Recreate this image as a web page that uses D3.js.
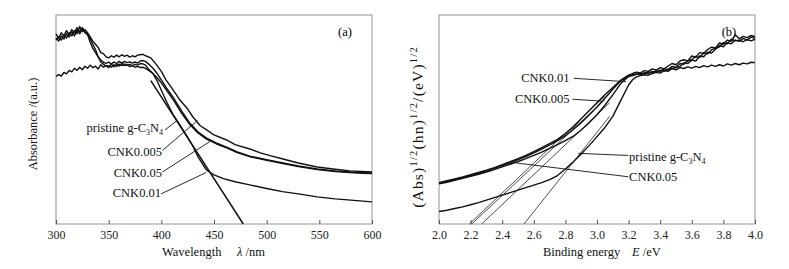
<!DOCTYPE html>
<html><head><meta charset="utf-8">
<script src="https://cdn.jsdelivr.net/npm/d3@7"></script>
<style>
body{margin:0;background:#fff;}
svg{display:block;font-family:"Liberation Serif","Times New Roman",serif;}
</style></head>
<body><svg id="c" width="789" height="269"></svg>
<script>
// ---------- Panel (a): absorbance vs wavelength ----------
const wlTicks = [300,350,400,450,500,550,600];
const curveA1 = [[300,88],[302.5,89.5],[305,88],[307.5,90.5],[310,89],[312.5,91.5],[315,90],[317.5,92.5],[320,91],[322.5,94.5],[325,92],[327.5,93],[330,91.5],[332.5,89.5],[335,87.5],[337.5,86],[340,84.5],[342.5,82],[345,81.5],[347.5,80],[350,79.5],[352.5,80.5],[355,79.8],[357.5,80.8],[360,80],[362.5,81],[365,80.2],[367.5,80.8],[370,79.8],[372.5,80.5],[375,80],[377.5,80.8],[380,81],[382.5,81.2],[385,80.5],[390,79.5],[395,76.5],[400,73],[404.4,69],[410,65],[417.7,59.3],[425,55],[430,51.2],[437,47],[443,45],[450,42.6],[462,40.2],[470,38],[484,35.9],[494,34],[505,32.5],[515.5,31.1],[530,29.2],[548,27.3],[565,26.2],[579,25.4],[590,25.1],[600,24.9]];
const curveA2 = [[300,89],[302.5,87.5],[305,90],[307.5,88.5],[310,91],[312.5,89.5],[315,92],[317.5,90],[320,93],[322.5,91],[325,93.5],[327.5,91.5],[330,90.5],[332.5,87],[335,84],[337.5,82],[340,80],[342.5,78.5],[345,77.5],[347.5,76.8],[350,77.5],[352.5,76.5],[355,77.5],[357.5,76.8],[360,77.8],[362.5,77],[365,77.8],[367.5,77.2],[370,77.6],[372.5,77],[375,77.5],[377.5,77],[380,78],[382.5,78.2],[385,77.8],[388,76.5],[392,74.5],[396,72],[400,69],[405,65],[411,60.8],[420,53.5],[427,48.3],[435,44],[443,41.1],[452,38.8],[462,36.8],[472,34.5],[484,32.5],[500,30.8],[515.5,29.2],[530,27.8],[548,26.3],[565,25.4],[579,24.9],[590,24.6],[600,24.4]];
const curveA3 = [[300,91],[302.5,89],[305,91.5],[307.5,90],[310,92.5],[312.5,90.5],[315,93],[317.5,91.5],[320,94],[322.5,92],[325,94],[327.5,92],[330,91],[332.5,88.5],[335,86],[337.5,83.5],[340,80],[342.5,77.5],[345,76.5],[347.5,75.5],[350,75.8],[352.5,75],[355,76.2],[357.5,75.4],[360,76.5],[362.5,75.8],[365,76.6],[367.5,76],[370,76.4],[372.5,75.8],[375,76.4],[377.5,76],[380,76.8],[382.5,76.6],[385,76],[388,74],[392,72],[396,68.5],[400,64],[405,58.5],[411,52.5],[415,49.5],[420,45.5],[425,41.5],[430,37.2],[435,32],[440,28],[443,25.8],[450,23.5],[459,21.7],[470,20.2],[484,18.7],[500,17],[515,15.5],[530,14.4],[548,13],[565,12],[580,11.4],[600,10.6]];
const curveA4 = [[300,70.5],[302.5,71.5],[305,70.8],[307.5,72.5],[310,71.8],[312.5,73.5],[315,72.8],[317.5,74.5],[320,73.5],[322.5,75],[325,73.8],[327.5,75.5],[330,74.5],[332.5,76],[335,74.8],[337.5,75.5],[340,74.2],[342.5,76.2],[345,75],[347.5,75.8],[350,74.8],[352.5,76.5],[355,75.2],[357.5,76.5],[360,75.6],[362.5,76.8],[365,75.8],[367.5,76.2],[370,75.3],[372.5,75.8],[375,75],[377.5,75.4],[380,74.8],[382.5,75],[385,74.5],[388,73.5],[392,72],[396,70],[400,67.5],[405,64],[411,59.6],[420,52.5],[427,47.6],[435,43.4],[443,40.6],[452,38.4],[462,36.4],[472,34.2],[484,32.2],[500,30.5],[515.5,28.9],[530,27.5],[548,26],[565,25.1],[579,24.6],[590,24.3],[600,24.1]];
const tangentA = [[390,68.6],[477.8,0]];
const labelsA = [
  {name:"pristine", at:[401.6,45.9], from:[403.5,45], to:[414.4,49.3]},
  {name:"CNK0.005", at:[400.6,34.4], from:[401.1,35.2], to:[434.3,49.5]},
  {name:"CNK0.05",  at:[400.6,24.4], from:[401.1,24.9], to:[446.2,39.5]},
  {name:"CNK0.01",  at:[399.7,14.8], from:[399.7,14.4], to:[442.4,24.6]}
];

// ---------- Panel (b): Tauc plot ----------
const eTicks = [2.0,2.2,2.4,2.6,2.8,3.0,3.2,3.4,3.6,3.8,4.0];
const curveBP = [[2.0,19.8],[2.05,20.7],[2.1,21.6],[2.15,22.5],[2.2,23.6],[2.25,24.7],[2.3,25.8],[2.35,27],[2.4,28.4],[2.45,29.8],[2.5,31.3],[2.55,32.8],[2.6,34.6],[2.65,36.5],[2.7,38.5],[2.75,40.5],[2.8,43.3],[2.85,46.3],[2.9,50.3],[2.95,54.2],[3.0,58],[3.05,61.8],[3.1,65.3],[3.15,68.8],[3.2,71.2],[3.225,72],[3.25,72.6],[3.275,72.3],[3.3,73.4],[3.325,73],[3.35,74.2],[3.375,73.6],[3.4,74.8],[3.425,74.2],[3.45,75.6],[3.475,76.8],[3.5,76.2],[3.525,78],[3.55,78.6],[3.575,78],[3.6,80.4],[3.625,79.8],[3.65,82],[3.675,81.6],[3.7,83.5],[3.725,84.6],[3.75,84.2],[3.775,86.6],[3.8,86],[3.825,88],[3.85,87.4],[3.875,90.5],[3.9,88.6],[3.925,89.8],[3.95,89.2],[3.975,90.2],[4.0,89.6]];
const curveBQ = [[2.0,19.2],[2.05,20],[2.1,20.9],[2.15,21.8],[2.2,22.8],[2.25,23.8],[2.3,24.9],[2.35,26],[2.4,27.3],[2.45,28.6],[2.5,29.9],[2.55,31.3],[2.6,32.8],[2.65,34.4],[2.7,36.2],[2.75,38],[2.8,39.9],[2.85,42],[2.9,45],[2.95,48.4],[3.0,52.3],[3.05,56.8],[3.1,61.8],[3.15,67.2],[3.2,70.6],[3.225,71],[3.25,71.6],[3.275,72],[3.3,71.8],[3.325,72.8],[3.35,72.4],[3.375,73.4],[3.4,73],[3.425,74.2],[3.45,74],[3.475,75.4],[3.5,75],[3.525,76.8],[3.55,76.4],[3.575,78.2],[3.6,78.6],[3.625,80.2],[3.65,79.6],[3.675,82],[3.7,81.4],[3.725,83.4],[3.75,84],[3.775,84.8],[3.8,86.8],[3.825,86.2],[3.85,88.4],[3.875,87.6],[3.9,88],[3.925,87.2],[3.95,88.2],[3.975,87.6],[4.0,88.4]];
const curveBW = [[2.0,19.5],[2.05,20.4],[2.1,21.3],[2.15,22.2],[2.2,23.2],[2.25,24.3],[2.3,25.4],[2.35,26.6],[2.4,27.9],[2.45,29.3],[2.5,30.8],[2.55,32.3],[2.6,34],[2.65,35.8],[2.7,37.8],[2.75,39.9],[2.8,42.3],[2.85,45.2],[2.9,48.5],[2.95,52.2],[3.0,56],[3.05,60.2],[3.1,64.5],[3.15,68.5],[3.2,70.8],[3.225,71.4],[3.25,71.8],[3.275,71.4],[3.3,72.4],[3.325,72],[3.35,73],[3.375,72.6],[3.4,73.6],[3.425,73.2],[3.45,73.8],[3.475,74.4],[3.5,73.8],[3.525,74.8],[3.55,74.4],[3.575,75.2],[3.6,74.6],[3.625,75.4],[3.65,74.8],[3.675,75.8],[3.7,75.2],[3.725,76],[3.75,75.4],[3.775,76.2],[3.8,75.6],[3.825,76.6],[3.85,76],[3.875,76.8],[3.9,76.2],[3.925,77],[3.95,76.6],[3.975,77.4],[4.0,77.2]];
const curveBL = [[2.0,6.0],[2.05,6.6],[2.1,7.4],[2.15,8.2],[2.2,9.2],[2.25,10.2],[2.3,11.4],[2.35,12.6],[2.4,13.8],[2.45,15],[2.5,16.2],[2.55,17.4],[2.6,18.6],[2.65,19.8],[2.7,21.2],[2.75,23.2],[2.8,26.3],[2.85,29.8],[2.9,33.5],[2.95,37.5],[3.0,41.8],[3.05,46.2],[3.1,51.5],[3.15,59],[3.2,66.5],[3.225,69],[3.25,70.4],[3.275,71],[3.3,71.4],[3.325,71.2],[3.35,72],[3.375,72.6],[3.4,72.2],[3.425,73.4],[3.45,73],[3.475,74.4],[3.5,74.8],[3.525,75.4],[3.55,77.2],[3.575,76.8],[3.6,78.4],[3.625,78],[3.65,80.4],[3.675,80],[3.7,82.2],[3.725,81.8],[3.75,83.6],[3.775,85.4],[3.8,84.8],[3.825,86.8],[3.85,86.2],[3.875,88],[3.9,87.4],[3.925,88.8],[3.95,88],[3.975,89.4],[4.0,88.8]];
const tangentsB = [
  [[2.192,0],[3.05,61.3]],
  [[2.207,0],[3.05,59.5]],
  [[2.27,0],[3.08,58]],
  [[2.538,0],[3.08,51.5]]
];
const labelsB = [
  {name:"CNK0.01",  anchor:"end",   at:[2.826,70.1], from:[2.854,69.7], to:[3.184,68.1]},
  {name:"CNK0.005", anchor:"end",   at:[2.826,60.1], from:[2.845,59.7], to:[3.028,58.8]},
  {name:"pristine", anchor:"start", at:[3.203,32.3], from:[3.196,32.8], to:[2.883,33.8]},
  {name:"CNK0.05",  anchor:"start", at:[3.203,22.5], from:[3.198,22.6], to:[2.489,29.2]}
];

const svg = d3.select("#c");
const FRAME = "#949494";
const FONT = "'Liberation Serif','Times New Roman',serif";

function panel(xDom, xRange, ticks, fmt){
  const x = d3.scaleLinear().domain(xDom).range(xRange);
  const y = d3.scaleLinear().domain([0,100]).range([224,15]);
  const g = svg.append("g");
  g.append("rect").attr("x",xRange[0]).attr("y",15).attr("width",xRange[1]-xRange[0]).attr("height",209)
    .attr("fill","none").attr("stroke",FRAME).attr("stroke-width",1);
  const ax = g.append("g").attr("transform","translate(0,224)")
    .call(d3.axisBottom(x).tickValues(ticks).tickFormat(fmt).tickSizeInner(-4).tickSizeOuter(0).tickPadding(6));
  ax.attr("font-family",FONT);
  ax.select(".domain").remove();
  ax.selectAll(".tick line").attr("stroke","#555");
  ax.selectAll("text").attr("font-size","12px").attr("fill","#222").attr("font-family",FONT);
  return {x,y,g};
}

// Panel a
const A = panel([300,600],[56,372],wlTicks,d3.format("d"));
const lineA = d3.line().x(d=>A.x(d[0])).y(d=>A.y(d[1]));
[curveA1,curveA2,curveA4,curveA3].forEach(c=>{
  A.g.append("path").attr("d",lineA(c)).attr("fill","none").attr("stroke","#111").attr("stroke-width",1.4).attr("stroke-linejoin","round");
});
A.g.append("path").attr("d",lineA(tangentA)).attr("stroke","#111").attr("stroke-width",1.5).attr("fill","none");

function addLabel(g, X, Y, L, anchor){
  g.append("line").attr("x1",X(L.from[0])).attr("y1",Y(L.from[1])).attr("x2",X(L.to[0])).attr("y2",Y(L.to[1]))
    .attr("stroke","#111").attr("stroke-width",0.9);
  const t = g.append("text").attr("x",X(L.at[0])).attr("y",Y(L.at[1])+4.3).attr("text-anchor",anchor)
    .attr("font-size","12.5px").attr("fill","#111");
  if(L.name==="pristine"){
    t.append("tspan").text("pristine g-C");
    t.append("tspan").attr("font-size","8px").attr("dy",3).text("3");
    t.append("tspan").attr("dy",-3).text("N");
    t.append("tspan").attr("font-size","8px").attr("dy",3).text("4");
  } else t.text(L.name);
}
labelsA.forEach(L=>addLabel(A.g, A.x, A.y, L, "end"));

A.g.append("text").attr("x",345).attr("y",36).attr("text-anchor","middle").attr("font-size","12.5px").text("(a)");
const tA = svg.append("text").attr("y",256).attr("font-size","12.5px").attr("fill","#111");
tA.append("tspan").attr("x",162).text("Wavelength");
tA.append("tspan").attr("x",237).attr("font-style","italic").text("λ");
tA.append("tspan").text(" /nm");
svg.append("text").attr("transform","translate(37,124) rotate(-90)").attr("text-anchor","middle")
  .attr("font-size","12.5px").attr("fill","#111").text("Absorbance /(a.u.)");

// Panel b
const B = panel([2,4],[439,755],eTicks,d3.format(".1f"));
const lineB = d3.line().x(d=>B.x(d[0])).y(d=>B.y(d[1]));
tangentsB.forEach(t=>{
  B.g.append("path").attr("d",lineB(t)).attr("stroke","#222").attr("stroke-width",0.8).attr("fill","none");
});
[curveBW,curveBQ,curveBP,curveBL].forEach(c=>{
  B.g.append("path").attr("d",lineB(c)).attr("fill","none").attr("stroke","#111").attr("stroke-width",1.4).attr("stroke-linejoin","round");
});
labelsB.forEach(L=>addLabel(B.g, B.x, B.y, L, L.anchor));
B.g.append("text").attr("x",729).attr("y",36).attr("text-anchor","middle").attr("font-size","12.5px").text("(b)");
const tB = svg.append("text").attr("y",256).attr("font-size","12.5px").attr("fill","#111");
tB.append("tspan").attr("x",543).text("Binding energy");
tB.append("tspan").attr("x",632).attr("font-style","italic").text("E");
tB.append("tspan").text(" /eV");
const yB = svg.append("text").attr("transform","translate(423,127) rotate(-90)").attr("text-anchor","middle")
  .attr("font-size","15.5px").attr("letter-spacing","1.2px").attr("fill","#111");
[["(Abs)",0],["1/2",1],["(hn)",0],["1/2",1],["/(eV)",0],["1/2",1]].forEach(([s,sup],i,arr)=>{
  const prev = i>0 ? arr[i-1][1] : 0;
  const dy = sup && !prev ? -6 : (!sup && prev ? 6 : 0);
  yB.append("tspan").attr("dy",dy).attr("font-size",sup?"10.5px":"15.5px").text(s);
});
</script></body></html>
